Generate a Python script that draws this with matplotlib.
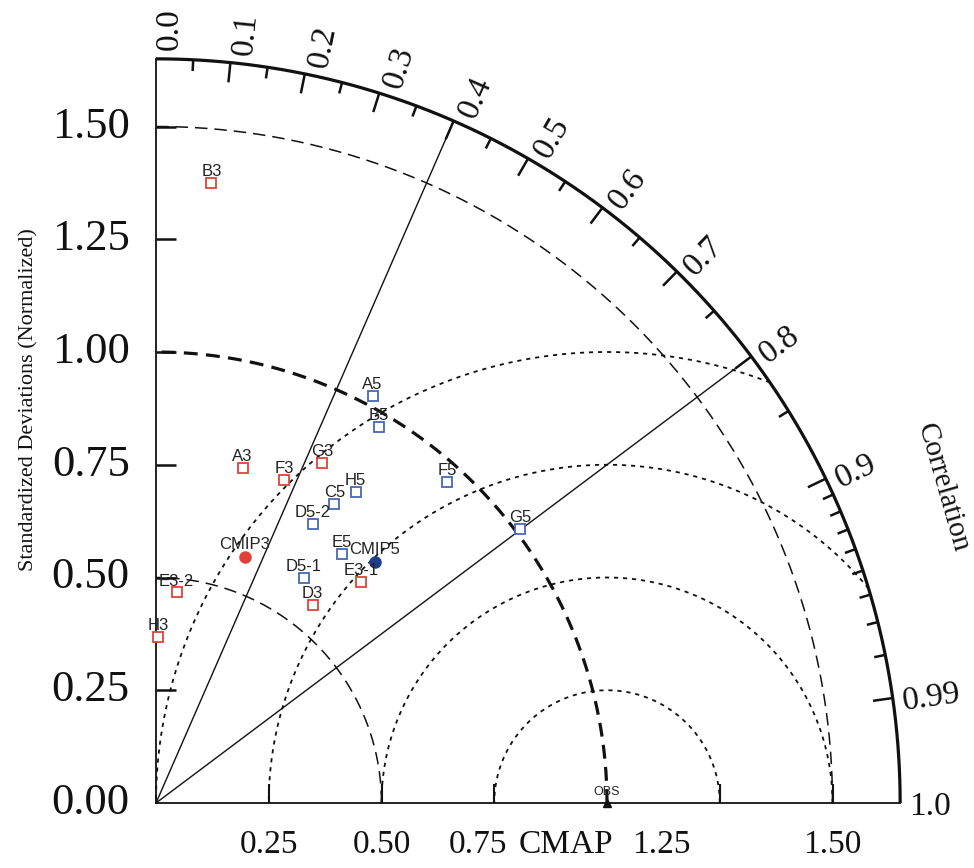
import numpy as np
import matplotlib
matplotlib.use("Agg")
import matplotlib.pyplot as plt

plt.rcParams['lines.scale_dashes'] = False

# ---------------- data ----------------
models = ['A3', 'B3', 'D3', 'E3-1', 'E3-2', 'F3', 'G3', 'H3',
          'A5', 'B5', 'C5', 'D5-1', 'D5-2', 'E5', 'F5', 'G5', 'H5']
model_group = ['3', '3', '3', '3', '3', '3', '3', '3',
               '5', '5', '5', '5', '5', '5', '5', '5', '5']
model_std = [0.768, 1.381, 0.560, 0.669, 0.469, 0.770, 0.839, 0.369,
             1.022, 0.970, 0.772, 0.598, 0.710, 0.690, 0.961, 1.010, 0.820]
model_corr = [0.250, 0.089, 0.620, 0.680, 0.098, 0.369, 0.440, 0.015,
              0.470, 0.510, 0.512, 0.549, 0.489, 0.598, 0.671, 0.799, 0.540]

ens_names = ['CMIP3', 'CMIP5']
ens_std = [0.580, 0.721]
ens_corr = [0.340, 0.672]

ref_name = 'OBS'
ref_std = 1.0

std_ticks = [0.25, 0.50, 0.75, 1.00, 1.25, 1.50]
y_tick_labels = ['0.00', '0.25', '0.50', '0.75', '1.00', '1.25', '1.50']
x_tick_labels = ['0.25', '0.50', '0.75', 'CMAP', '1.25', '1.50']
x_label_pos = [0.25, 0.50, 0.715, 0.91, 1.12, 1.50]
corr_major = [0.0, 0.1, 0.2, 0.3, 0.4, 0.5, 0.6, 0.7, 0.8, 0.9, 0.99, 1.0]
corr_major_labels = ['0.0', '0.1', '0.2', '0.3', '0.4', '0.5', '0.6', '0.7',
                     '0.8', '0.9', '0.99', '1.0']
corr_minor = [0.05, 0.15, 0.25, 0.35, 0.45, 0.55, 0.65, 0.75, 0.85,
              0.91, 0.92, 0.93, 0.94, 0.95, 0.96, 0.97, 0.98]
corr_lines = [0.4, 0.8]
std_arcs = [0.5, 1.0, 1.5]
rms_arcs = [0.25, 0.5, 0.75, 1.0]
rmax = 1.65

col3 = '#e2413a'
col5 = '#4568b5'
colc5 = '#1f3c8c'

# ---------------- figure ----------------
fig = plt.figure(figsize=(9.74, 8.68), dpi=100)
ax = fig.add_axes([0, 0, 1, 1])
PX = 451.0
ax.set_xlim(-156 / PX, (974 - 156) / PX)
ax.set_ylim(-(868 - 803) / PX, 803 / PX)
ax.axis('off')

serif = 'Liberation Serif'
sans = 'Liberation Sans'

def pol(r, c):
    th = np.arccos(c)
    return r * np.cos(th), r * np.sin(th)

# outer arc
t = np.linspace(0, np.pi / 2, 400)
ax.plot(rmax * np.cos(t), rmax * np.sin(t), color='#111', lw=2.3, solid_capstyle='butt')
# axes lines
ax.plot([0, 0], [0, rmax], color='#111', lw=1.3)
ax.plot([0, rmax], [0, 0], color='#111', lw=1.3)

# std arcs (around origin)
for r in std_arcs:
    lw = 2.3 if r == 1.0 else 1.1
    ds = (0, (10, 6)) if r == 1.0 else (0, (9, 5))
    ax.plot(r * np.cos(t), r * np.sin(t), color='#111', lw=lw, linestyle=ds)

# rms arcs (around reference)
for rr in rms_arcs:
    cmax = (rmax**2 - 1 - rr**2) / (2 * rr)
    t0 = np.arccos(np.clip(cmax, -1, 1))
    tt = np.linspace(t0, np.pi, 300)
    ax.plot(ref_std + rr * np.cos(tt), rr * np.sin(tt), color='#111', lw=1.3,
            linestyle=(0, (3, 3.5)))

# correlation lines
for c in corr_lines:
    x, y = pol(rmax, c)
    ax.plot([0, x], [0, y], color='#111', lw=1.0)

# correlation ticks
for c in corr_major + corr_minor:
    if c in (0.0, 1.0):
        continue
    L = 0.044 if c in corr_major else 0.025
    x1, y1 = pol(rmax, c)
    x0, y0 = pol(rmax - L, c)
    ax.plot([x0, x1], [y0, y1], color='#111', lw=1.8, solid_capstyle='butt')

# correlation labels (shifted slightly clockwise of the radial line)
for c, lab in zip(corr_major, corr_major_labels):
    th = np.arccos(c)
    x, y = pol(rmax + 0.02, c)
    off = (4 + 9 * th / (np.pi / 2)) / PX
    x += off * np.sin(th)
    y -= off * np.cos(th)
    ax.text(x, y, lab, rotation=np.degrees(th), rotation_mode='anchor', ha='left',
            va='center', fontsize=24, family=serif, color='#111')

# std ticks
for s in std_ticks:
    ax.plot([0, 0.044], [s, s], color='#111', lw=1.8, solid_capstyle='butt')
    if s != 1.0:
        ax.plot([s, s], [0, 0.042], color='#111', lw=1.5, solid_capstyle='butt')

# y tick labels
for s, lab in zip([0.0] + std_ticks, y_tick_labels):
    ax.text(-0.058, s, lab, ha='right', va='center', fontsize=32, family=serif, color='#111')

# x tick labels
for s, lab in zip(x_label_pos, x_tick_labels):
    ax.text(s, -0.093, lab, ha='center', va='center', fontsize=24, family=serif, color='#111')

ax.text(-0.283, 0.894, 'Standardized Deviations (Normalized)', rotation=90,
        ha='center', va='center', fontsize=16, family=serif, color='#111')
ax.text(1.745, 0.698, 'Correlation', rotation=-74, rotation_mode='anchor',
        ha='center', va='center', fontsize=21, family=serif, color='#111')

# reference point
ax.plot([ref_std], [0], marker='^', ms=6, color='#111', clip_on=False)
ax.annotate(ref_name, (ref_std, 0), xytext=(0, 6), textcoords='offset points',
            ha='center', va='baseline', fontsize=9, family=sans, color='#222')

# models
for name, g, s, c in zip(models, model_group, model_std, model_corr):
    x, y = pol(s, c)
    col = col3 if g == '3' else col5
    ax.plot([x], [y], marker='s', ms=7, mfc='white', mec=col, mew=1.3, linestyle='none')
    ax.annotate(name, (x, y), xytext=(0, 5), textcoords='offset points',
                ha='center', va='baseline', fontsize=12, family=sans, color='#222')

for name, s, c, col in zip(ens_names, ens_std, ens_corr, [col3, colc5]):
    x, y = pol(s, c)
    ax.plot([x], [y], marker='o', ms=8, mfc=col, mec=col, linestyle='none')
    ax.annotate(name, (x, y), xytext=(0, 6), textcoords='offset points',
                ha='center', va='baseline', fontsize=12, family=sans, color='#222')

fig.savefig('out.png', dpi=100)
